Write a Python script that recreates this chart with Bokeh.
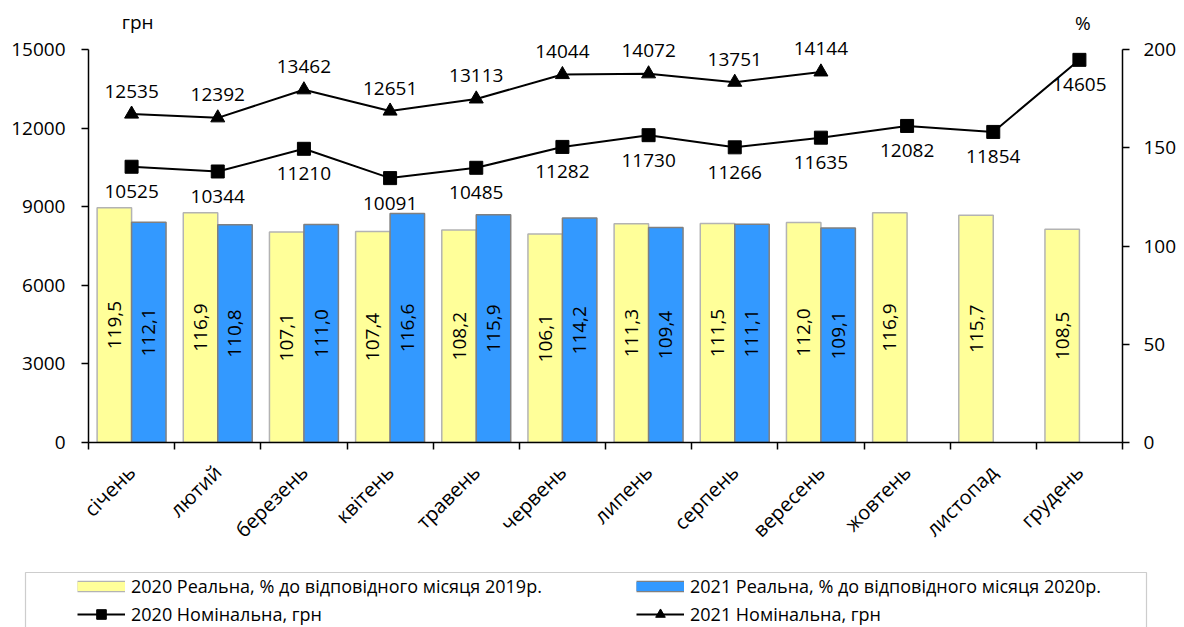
import math
from bokeh.plotting import figure
from bokeh.layouts import column
from bokeh.models import (Range1d, LinearAxis, FixedTicker, Legend, LegendItem,
                          Label, BoxAnnotation)
from bokeh.core.properties import value
from bokeh.embed import file_html
from bokeh.resources import INLINE

months = ["січень", "лютий", "березень", "квітень", "травень", "червень",
          "липень", "серпень", "вересень", "жовтень", "листопад", "грудень"]
real_2020 = [119.5, 116.9, 107.1, 107.4, 108.2, 106.1, 111.3, 111.5, 112.0, 116.9, 115.7, 108.5]
real_2021 = [112.1, 110.8, 111.0, 116.6, 115.9, 114.2, 109.4, 111.1, 109.1]
nom_2020 = [10525, 10344, 11210, 10091, 10485, 11282, 11730, 11266, 11635, 12082, 11854, 14605]
nom_2021 = [12535, 12392, 13462, 12651, 13113, 14044, 14072, 13751, 14144]
left_ticks = [0, 3000, 6000, 9000, 12000, 15000]
right_ticks = [0, 50, 100, 150, 200]
lbl_2020_real = "2020 Реальна, % до відповідного місяця 2019р."
lbl_2021_real = "2021 Реальна, % до відповідного місяця 2020р."
lbl_2020_nom = "2020 Номінальна, грн"
lbl_2021_nom = "2021 Номінальна, грн"

FONT = "Open Sans"
YELLOW = "#FFFF99"
BLUE = "#3399FF"
EDGE20 = "#B3B3B3"
EDGE21 = "#808080"
LEFT_MAX, RIGHT_MAX = 15000, 200
HEAD = 442 / 393  # frame reaches the top of the canvas; axes stop at their max

W = 1184
p = figure(width=W, height=560, output_backend="svg", toolbar_location=None,
           x_range=Range1d(-0.5, 11.5), y_range=Range1d(0, LEFT_MAX * HEAD),
           min_border_left=88, min_border_right=62, min_border_top=0,
           min_border_bottom=118)
p.frame_align = False
p.extra_y_ranges = {"pct": Range1d(0, RIGHT_MAX * HEAD)}
p.outline_line_color = None
p.xgrid.visible = False
p.ygrid.visible = False

xa = p.xaxis[0]
xa.ticker = FixedTicker(ticks=list(range(len(months))),
                        minor_ticks=[i - 0.5 for i in range(len(months) + 1)])
xa.major_label_overrides = {i: m for i, m in enumerate(months)}
xa.major_tick_line_color = None
xa.major_tick_out = 0
xa.major_tick_in = 0
xa.minor_tick_out = 7
xa.minor_tick_in = 0
xa.minor_tick_line_color = "black"
xa.minor_tick_line_width = 1.5
xa.axis_line_color = "black"
xa.axis_line_width = 1.5
xa.major_label_orientation = math.pi / 4
xa.major_label_standoff = 19
xa.major_label_text_font = FONT
xa.major_label_text_font_size = "20px"
xa.major_label_text_color = "black"

ya = p.yaxis[0]
ya.ticker = FixedTicker(ticks=left_ticks)
ya.bounds = (0, LEFT_MAX)
ya.major_tick_out = 7
ya.major_tick_in = 0
ya.minor_tick_line_color = None
ya.axis_line_width = 1.5
ya.major_tick_line_width = 1.5
ya.major_label_standoff = 16
ya.major_label_text_font = FONT
ya.major_label_text_font_size = "19px"
ya.major_label_text_color = "black"

ra = LinearAxis(y_range_name="pct", ticker=FixedTicker(ticks=right_ticks),
                bounds=(0, RIGHT_MAX))
ra.major_tick_out = 7
ra.major_tick_in = 0
ra.minor_tick_line_color = None
ra.axis_line_width = 1.5
ra.major_tick_line_width = 1.5
ra.major_label_standoff = 14
ra.major_label_text_font = FONT
ra.major_label_text_font_size = "19px"
ra.major_label_text_color = "black"
p.add_layout(ra, "right")

# bars (percent, right axis)
x20 = [i - 0.2 for i in range(len(real_2020))]
x21 = [i + 0.2 for i in range(len(real_2021))]
p.vbar(x=x20, top=real_2020, width=0.4, y_range_name="pct",
       fill_color=YELLOW, line_color=EDGE20, line_width=1.5)
p.vbar(x=x21, top=real_2021, width=0.4, y_range_name="pct",
       fill_color=BLUE, line_color=EDGE21, line_width=1.5)

def fmt(v):
    return f"{v:.1f}".replace(".", ",")

for xs, vals in ((x20, real_2020), (x21, real_2021)):
    p.text(x=xs, y=[v / 2 for v in vals], text=[fmt(v) for v in vals],
           y_range_name="pct", angle=math.pi / 2, text_align="center",
           text_baseline="middle", text_font=value(FONT), text_font_size="19px",
           text_color="black")

# lines (nominal, left axis)
xl20 = list(range(len(nom_2020)))
xl21 = list(range(len(nom_2021)))
line_style = dict(line_color="black", line_width=2)
sq_style = dict(marker="square", size=13, fill_color="black", line_color="black")
tri_style = dict(marker="triangle", size=14, fill_color="black", line_color="black")
p.line(x=xl20, y=nom_2020, **line_style)
p.scatter(x=xl20, y=nom_2020, **sq_style)
p.line(x=xl21, y=nom_2021, **line_style)
p.scatter(x=xl21, y=nom_2021, **tri_style)

p.text(x=xl20, y=nom_2020, text=[str(v) for v in nom_2020], y_offset=25,
       text_align="center", text_baseline="middle", text_font=value(FONT),
       text_font_size="19px", text_color="black")
p.text(x=xl21, y=nom_2021, text=[str(v) for v in nom_2021], y_offset=-23,
       text_align="center", text_baseline="middle", text_font=value(FONT),
       text_font_size="19px", text_color="black")

# axis unit labels
p.add_layout(Label(x=0.07, y=16050, text="грн", text_align="center",
                   text_baseline="alphabetic", text_font=FONT,
                   text_font_size="19px", text_color="black"))
p.add_layout(Label(x=11.04, y=16000, text="%", text_align="center",
                   text_baseline="alphabetic", text_font=FONT,
                   text_font_size="19px", text_color="black"))

# ---- legend strip (pixel-like coordinates) ----
LH = 67
q = figure(width=W, height=LH, output_backend="svg", toolbar_location=None,
           x_range=Range1d(0, W), y_range=Range1d(0, LH),
           x_axis_location=None, y_axis_location=None,
           min_border=0, min_border_left=0, min_border_right=0,
           min_border_top=0, min_border_bottom=0)
q.frame_align = False
q.outline_line_color = None
q.xgrid.visible = False
q.ygrid.visible = False
q.add_layout(BoxAnnotation(left=25, right=1146, top=LH - 12, bottom=-10,
                           fill_alpha=0, line_color="#595959", line_width=1.2))

# legend proxies (no visible data): swatches drawn as thick strokes
nan = float("nan")
sw20_edge = q.line(x=[nan], y=[nan], line_color=EDGE20, line_width=11.5)
sw20_fill = q.line(x=[nan], y=[nan], line_color=YELLOW, line_width=9)
sw21_edge = q.line(x=[nan], y=[nan], line_color=EDGE21, line_width=11.5)
sw21_fill = q.line(x=[nan], y=[nan], line_color=BLUE, line_width=9)
pl20 = q.line(x=[nan], y=[nan], **line_style)
ps20 = q.scatter(x=[nan], y=[nan], **sq_style)
pl21 = q.line(x=[nan], y=[nan], **line_style)
ps21 = q.scatter(x=[nan], y=[nan], **tri_style)

def make_legend(items, loc):
    lg = Legend(items=items, location=loc, orientation="vertical",
                padding=0, spacing=4, glyph_width=48, glyph_height=24,
                label_height=24, label_standoff=6,
                label_text_font=FONT, label_text_font_size="18px",
                label_text_color="black", border_line_color=None,
                background_fill_alpha=0, margin=0)
    q.add_layout(lg, "center")
    return lg

make_legend([LegendItem(label=lbl_2020_real, renderers=[sw20_edge, sw20_fill]),
             LegendItem(label=lbl_2020_nom, renderers=[pl20, ps20])], (77, 1))
make_legend([LegendItem(label=lbl_2021_real, renderers=[sw21_edge, sw21_fill]),
             LegendItem(label=lbl_2021_nom, renderers=[pl21, ps21])], (636, 1))

open("out.html", "w").write(file_html(column(p, q, spacing=0), INLINE))
